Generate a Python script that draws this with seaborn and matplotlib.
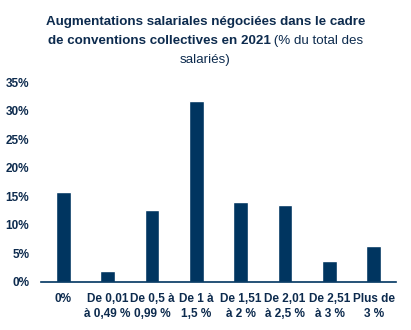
import matplotlib
matplotlib.use("Agg")
import matplotlib.pyplot as plt
import seaborn as sns
import pandas as pd

# Share of employees by negotiated pay rise bracket (2021)
categories = ["0%", "De 0,01\nà 0,49 %", "De 0,5 à\n0,99 %", "De 1 à\n1,5 %",
              "De 1,51\nà 2 %", "De 2,01\nà 2,5 %", "De 2,51\nà 3 %", "Plus de\n3 %"]
values = [15.8, 1.9, 12.6, 31.7, 14.0, 13.5, 3.7, 6.3]
y_ticks = [0, 5, 10, 15, 20, 25, 30, 35]

NAVY = "#003560"
TEXT = "#0d2b4e"

sns.set_theme(style="white")
plt.rcParams["font.family"] = ["Liberation Sans", "DejaVu Sans"]

fig = plt.figure(figsize=(4.11, 3.30), dpi=100)
ax = fig.add_axes([0.0998, 0.1455, 0.8637, 0.606])

df = pd.DataFrame({"cat": categories, "val": values})
sns.barplot(data=df, x="cat", y="val", color=NAVY, saturation=1,
            width=0.33, ax=ax)

ax.set_xlim(-0.5, 7.5)
ax.set_ylim(0, 35)
ax.set_yticks(y_ticks)
ax.set_yticklabels([f"{t}%" for t in y_ticks])
ax.set_xlabel("")
ax.set_ylabel("")
for s in ["top", "right", "left"]:
    ax.spines[s].set_visible(False)
ax.spines["bottom"].set_color(NAVY)
ax.spines["bottom"].set_linewidth(1.2)
ax.tick_params(axis="both", length=0, labelcolor=TEXT, labelsize=8.5)
ax.tick_params(axis="y", pad=8.5)
ax.tick_params(axis="x", pad=8)
for lab in ax.get_xticklabels() + ax.get_yticklabels():
    lab.set_fontweight("bold")
for lab in ax.get_xticklabels():
    lab.set_linespacing(1.3)

# Title: bold lead text followed by a regular-weight qualifier
fs = 9.6
renderer = fig.canvas.get_renderer()
cx = 205.5 / 411

def tw(txt, weight):
    t = fig.text(0, 0, txt, fontsize=fs, fontweight=weight)
    w = t.get_window_extent(renderer).width
    t.remove()
    return w

fig.text(cx, 1 - 25 / 330, "Augmentations salariales négociées dans le cadre",
         ha="center", va="baseline", fontsize=fs, fontweight="bold", color=TEXT)

bold2 = "de conventions collectives en 2021"
reg2 = " (% du total des"
w_b = tw(bold2, "bold")
w_r = tw(reg2, "normal")
x0 = (411 - (w_b + w_r)) / 2
fig.text(x0 / 411, 1 - 44 / 330, bold2, ha="left", va="baseline",
         fontsize=fs, fontweight="bold", color=TEXT)
fig.text((x0 + w_b) / 411, 1 - 44 / 330, reg2, ha="left", va="baseline",
         fontsize=fs, fontweight="normal", color=TEXT)

fig.text(cx, 1 - 63 / 330, "salariés)", ha="center", va="baseline",
         fontsize=fs, fontweight="normal", color=TEXT)

fig.savefig("out.png", dpi=100)
